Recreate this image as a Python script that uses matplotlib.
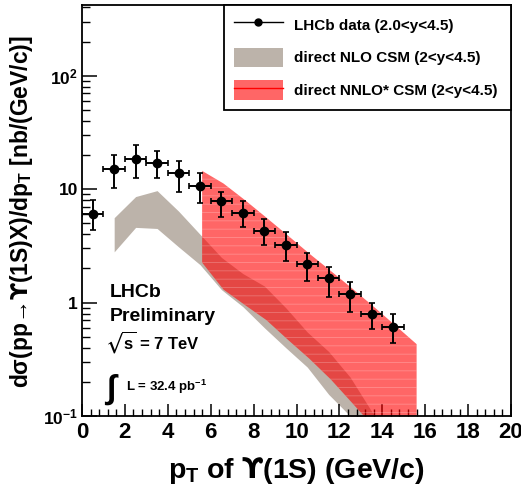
"""
LHCb Upsilon(1S) differential cross-section vs pT, with NLO / NNLO* CSM bands.
"""

import numpy as np
import matplotlib
matplotlib.use("Agg")
import matplotlib.pyplot as plt
from matplotlib.lines import Line2D
from matplotlib.patches import Patch
from matplotlib.ticker import MultipleLocator, FixedLocator, FixedFormatter, LogLocator, NullFormatter

plt.rcParams['font.family'] = ['Liberation Sans', 'DejaVu Sans']
plt.rcParams['font.weight'] = 'bold'
plt.rcParams['mathtext.fontset'] = 'custom'
plt.rcParams['mathtext.rm'] = 'Liberation Sans:bold'
plt.rcParams['mathtext.bf'] = 'Liberation Sans:bold'
plt.rcParams['mathtext.it'] = 'Liberation Sans:bold'
plt.rcParams['mathtext.sf'] = 'DejaVu Sans:bold'   # used for the hooked Upsilon
plt.rcParams['mathtext.default'] = 'rm'
plt.rcParams['mathtext.fallback'] = 'stixsans'
plt.rcParams['axes.linewidth'] = 1.3
plt.rcParams['hatch.linewidth'] = 0.6

# LHCb data (2.0<y<4.5)
pt = [0.5, 1.5, 2.5, 3.5, 4.5, 5.5, 6.5, 7.5, 8.5, 9.5, 10.5, 11.5, 12.5, 13.5, 14.5]
xsec = [6.0, 15.2, 18.5, 17.1, 14.0, 10.7, 7.9, 6.2, 4.3, 3.24, 2.2, 1.63, 1.2, 0.80, 0.61]
xsec_hi = [8.1, 20.0, 24.7, 21.8, 17.8, 14.0, 9.5, 7.8, 5.5, 4.2, 2.75, 2.07, 1.53, 1.0, 0.80]
xsec_lo = [4.4, 10.3, 12.6, 12.6, 9.5, 7.6, 5.7, 4.6, 3.2, 2.34, 1.56, 1.13, 0.83, 0.58, 0.44]

# direct NLO CSM band
nlo_pt = [1.5, 2.5, 3.5, 4.5, 5.5, 6.5, 7.5, 8.5, 9.5, 10.5, 11.5, 12.5, 13.5, 14.5]
nlo_hi = [5.6, 8.6, 9.7, 6.4, 4.0, 2.5, 1.8, 1.4, 0.9, 0.55, 0.37, 0.22, 0.11, 0.06]
nlo_lo = [2.8, 4.6, 4.5, 3.1, 2.16, 1.3, 0.92, 0.6, 0.40, 0.27, 0.155, 0.10, 0.06, 0.04]

# direct NNLO* CSM band
nnlo_pt = [5.6, 6.6, 7.6, 8.6, 9.6, 10.6, 11.6, 12.6, 13.6, 14.6, 15.6]
nnlo_hi = [14.5, 11.2, 8.0, 5.6, 3.9, 2.7, 1.9, 1.33, 0.92, 0.63, 0.43]
nnlo_lo = [2.25, 1.3, 0.95, 0.7, 0.47, 0.32, 0.21, 0.13, 0.08, 0.05, 0.03]

gray = "#bcb3aa"
red = (1.0, 0.0, 0.0)
red_alpha = 0.6

fig = plt.figure(figsize=(5.21, 5.0), dpi=100)
ax = fig.add_axes([82 / 521, 84 / 500, 429 / 521, 411 / 500])

ax.fill_between(nlo_pt, nlo_lo, nlo_hi, color=gray, lw=0, zorder=1)
ax.fill_between(nnlo_pt, nnlo_lo, nnlo_hi, facecolor=red, alpha=red_alpha, lw=0, zorder=2)
# faint horizontal stripes in the NNLO* band
ax.fill_between(nnlo_pt, nnlo_lo, nnlo_hi, facecolor='none', hatch='--',
                edgecolor=(1, 1, 1, 0.25), lw=0, zorder=2)

y = np.array(xsec)
yerr = [y - np.array(xsec_lo), np.array(xsec_hi) - y]
ax.errorbar(pt, xsec, xerr=0.5, yerr=yerr, fmt='o', color='k', ms=6,
            elinewidth=1.4, capsize=2, capthick=1.2, zorder=5)

ax.set_yscale('log')
ax.set_xlim(0, 20)
ax.set_ylim(0.1, 420)

ax.xaxis.set_major_locator(MultipleLocator(2))
ax.xaxis.set_minor_locator(MultipleLocator(0.4))
ax.yaxis.set_major_locator(FixedLocator([0.1, 1, 10, 100]))
ax.yaxis.set_major_formatter(FixedFormatter(["10$^{-1}$", "1", "10", "10$^{2}$"]))
ax.yaxis.set_minor_locator(LogLocator(base=10, subs=np.arange(2, 10)))
ax.yaxis.set_minor_formatter(NullFormatter())
ax.tick_params(axis='both', which='both', direction='in', top=False, right=False)
ax.tick_params(axis='x', which='major', length=9, width=1.1, labelsize=16, pad=4)
ax.tick_params(axis='x', which='minor', length=5, width=1.0)
ax.tick_params(axis='y', which='major', length=11, width=1.1, labelsize=12.5, pad=3)
ax.tick_params(axis='y', which='minor', length=6, width=1.0)

# axis titles
fig.text(296 / 521, 1 - 470 / 500, "p$_{T}$ of $\\mathsf{ϒ}$(1S) (GeV/c)", ha='center', va='center',
         fontsize=20.5, fontweight='bold')
fig.text(22 / 521, 1 - 212 / 500, "d$\\sigma$(pp→$\\mathsf{ϒ}$(1S)X)/dp$_{T}$ [nb/(GeV/c)]",
         ha='center', va='center', rotation=90, fontsize=16.5, fontweight='bold')

# LHCb labels
ax.text(0.065, 0.30, "LHCb", transform=ax.transAxes, fontsize=14, fontweight='bold', va='center')
ax.text(0.065, 0.243, "Preliminary", transform=ax.transAxes, fontsize=14, fontweight='bold', va='center')
ax.text(0.054, 0.18, "$\\sqrt{s}$ = 7 TeV", transform=ax.transAxes, fontsize=12,
        fontweight='bold', va='center')
ax.text(0.055, 0.065, "∫", transform=ax.transAxes, fontsize=24, va='center')
ax.text(0.103, 0.07, "L = 32.4 pb$^{-1}$", transform=ax.transAxes, fontsize=9.5,
        fontweight='bold', va='center')

handles = [
    Line2D([], [], color='k', marker='o', ms=5, lw=1),
    Patch(facecolor=gray, edgecolor='none'),
    (Patch(facecolor=red, alpha=red_alpha, edgecolor='none'), Line2D([], [], color='red', lw=1)),
]
labels = ["LHCb data (2.0<y<4.5)", "direct NLO CSM (2<y<4.5)", "direct NNLO* CSM (2<y<4.5)"]
leg = ax.legend(handles, labels, loc='upper left', bbox_to_anchor=(0.331, 0.73, 0.669, 0.27),
                mode='expand', borderaxespad=0, prop={'weight': 'bold', 'size': 11},
                handlelength=3.2, handleheight=1.6, handletextpad=0.7, labelspacing=0.85,
                borderpad=0.65, fancybox=False, framealpha=1, edgecolor='k')
leg.get_frame().set_linewidth(1.3)

fig.savefig("out.png", dpi=100)
